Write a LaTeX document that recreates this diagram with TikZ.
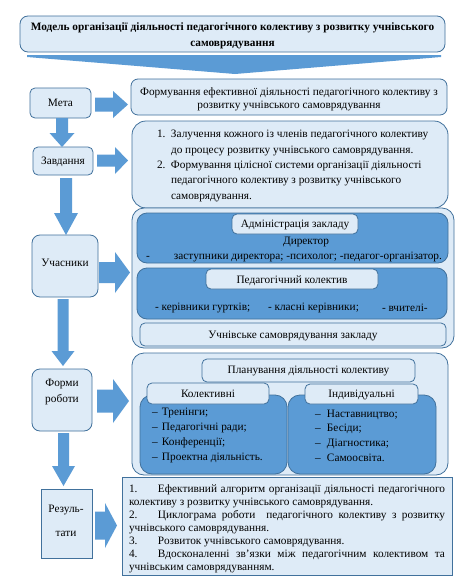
\documentclass[tikz,border=0pt]{standalone}
\usepackage{fontspec}
\setmainfont{Liberation Serif}
\usetikzlibrary{fit,calc}
\definecolor{lightfill}{HTML}{DEEBF7}
\definecolor{midfill}{HTML}{5B9BD5}
\definecolor{edgeblue}{HTML}{41719C}
\tikzset{
  box/.style={draw=edgeblue, fill=lightfill, line width=0.8pt, rounded corners=5pt, inner sep=0pt, outer sep=0pt},
  bigbox/.style={box, rounded corners=12pt},
  darkbox/.style={draw=edgeblue, fill=midfill, line width=0.8pt, rounded corners=10pt, inner sep=0pt, outer sep=0pt},
  sqbox/.style={box, sharp corners},
  txt/.style={inner sep=0pt, outer sep=0pt, font=\fontsize{11.3}{13}\selectfont},
  blockarrow/.style={fill=midfill, draw=none},
}
% right block arrow: from, to, gap-from, gap-to, dy (down +), half shaft, half head, head length
\newcommand\rarrow[8]{%
  \fill[blockarrow] let \p1=(#1.east), \p2=(#2.west), \p3=(#1.center) in
    ({\x1+#3pt},{\y3-(#5pt)+#6pt}) -- ({\x2-#4pt-#8pt},{\y3-(#5pt)+#6pt}) --
    ({\x2-#4pt-#8pt},{\y3-(#5pt)+#7pt}) -- ({\x2-#4pt},{\y3-(#5pt)}) --
    ({\x2-#4pt-#8pt},{\y3-(#5pt)-#7pt}) -- ({\x2-#4pt-#8pt},{\y3-(#5pt)-#6pt}) --
    ({\x1+#3pt},{\y3-(#5pt)-#6pt}) -- cycle;}
% down block arrow: from, to, gap-from, gap-to, dx, half shaft, half head, head length
\newcommand\darrow[8]{%
  \fill[blockarrow] let \p1=(#1.south), \p2=(#2.north), \p3=(#1.center) in
    ({\x3+(#5pt)-#6pt},{\y1-#3pt}) -- ({\x3+(#5pt)+#6pt},{\y1-#3pt}) --
    ({\x3+(#5pt)+#6pt},{\y2+#4pt+#8pt}) -- ({\x3+(#5pt)+#7pt},{\y2+#4pt+#8pt}) --
    ({\x3+(#5pt)},{\y2+#4pt}) -- ({\x3+(#5pt)-#7pt},{\y2+#4pt+#8pt}) --
    ({\x3+(#5pt)-#6pt},{\y2+#4pt+#8pt}) -- cycle;}
\begin{document}
\begin{tikzpicture}[x=1pt,y=-1pt]
\useasboundingbox (0,0) rectangle (469,581);
\fill[white] (0,0) rectangle (469,581);

% title
\node[box, rounded corners=8pt, fit={(20,16) (445,52)}] (title) {};
\node[txt, align=center, font=\fontsize{11.3}{16}\selectfont\bfseries] (titletxt) at (232.5,36)
  {Модель організації діяльності педагогічного колективу з розвитку учнівського\\ самоврядування};
\fill[blockarrow] (27,55) -- (441,55) -- (441,57) -- (235,74) -- (27,57) -- cycle;

% left column
\node[box, fit={(30,88) (91,118)}] (meta) {};
\node[txt] (metatxt) at (60.5,102.5) {Мета};
\node[box, fit={(33,147) (93,175)}] (zav) {};
\node[txt] (zavtxt) at (63,161.5) {Завдання};
\node[box, rounded corners=8pt, fit={(32,235) (98,297)}] (uch) {};
\node[txt] (uchtxt) at (65,263) {Учасники};
\node[box, rounded corners=8pt, fit={(32,369) (92,431)}] (forms) {};
\node[txt, align=center, font=\fontsize{11.3}{16}\selectfont] (formstxt) at (62,391.5) {Форми\\роботи};
\node[sqbox, fit={(41,489) (92,558)}] (res) {};
\node[txt, align=center, font=\fontsize{11.3}{24}\selectfont] (restxt) at (66,520.5) {Резуль-\\тати};

% goal
\node[box, rounded corners=7pt, fit={(131,79) (447,115)}] (goal) {};
\node[txt, align=center] (goaltxt) at (289,99)
  {Формування ефективної діяльності педагогічного колективу з\\ розвитку учнівського самоврядування};

% tasks
\node[bigbox, rounded corners=14pt, fit={(132,121) (448,208)}] (tasks) {};
\node[txt, anchor=west, align=left, font=\fontsize{11.3}{15.3}\selectfont] (taskstxt) at (157,166)
  {\makebox[14pt][l]{1.}Залучення кожного із членів педагогічного колективу\\
   \hspace*{14pt}до процесу розвитку учнівського самоврядування.\\
   \makebox[14pt][l]{2.}Формування цілісної системи організації діяльності\\
   \hspace*{14pt}педагогічного колективу з розвитку учнівського\\
   \hspace*{14pt}самоврядування.};

% participants
\node[bigbox, fit={(132,208) (454,348)}] (part) {};
\node[darkbox, fit={(137,213) (448,263)}] (admin) {};
\node[box, fit={(232,214) (358,234)}] (adminlbl) {};
\node[txt] (adminlbltxt) at (295,225) {Адміністрація закладу};
\node[txt] (dir) at (306,241.5) {Директор};
\node[txt, anchor=west] (zast) at (146,256.5) {\makebox[28pt][l]{-}заступники директора; -психолог; -педагог-організатор.};
\node[darkbox, fit={(137,268) (447,319)}] (ped) {};
\node[box, fit={(206,269) (378,289)}] (pedlbl) {};
\node[txt] (pedlbltxt) at (292,280.5) {Педагогічний колектив};
\node[txt, anchor=west] (ped1) at (155,307.5) {- керівники гуртків;};
\node[txt, anchor=west] (ped2) at (268,307.5) {- класні керівники;};
\node[txt, anchor=west] (ped3) at (382,307.5) {- вчителі-};
\node[box, fit={(140,323) (446,346)}] (stud) {};
\node[txt] (studtxt) at (293,336) {Учнівське самоврядування закладу};

% forms of work
\node[bigbox, fit={(132,353) (448,475)}] (formsbox) {};
\node[box, fit={(202,359) (415,382)}] (plan) {};
\node[txt] (plantxt) at (308.5,371) {Планування діяльності колективу};
\node[darkbox, rounded corners=12pt, fit={(140,395) (287,474)}] (left) {};
\node[darkbox, rounded corners=12pt, fit={(288,395) (436,474)}] (right) {};
\node[box, fit={(147,383) (269,404)}] (kollbl) {};
\node[txt] (kollbltxt) at (208,394) {Колективні};
\node[box, fit={(305,384) (418,404)}] (indlbl) {};
\node[txt] (indlbltxt) at (361.5,394.5) {Індивідуальні};
\node[txt, anchor=west, align=left, font=\fontsize{11.3}{14.7}\selectfont] (leftlist) at (152,435.5)
  {\makebox[10pt][l]{–}Тренінги;\\ \makebox[10pt][l]{–}Педагогічні ради;\\
   \makebox[10pt][l]{–}Конференції;\\ \makebox[10pt][l]{–}Проектна діяльність.};
\node[txt, anchor=west, align=left, font=\fontsize{11.3}{14.7}\selectfont] (rightlist) at (315,435.5)
  {\makebox[12pt][l]{–}Наставництво;\\ \makebox[12pt][l]{–}Бесіди;\\
   \makebox[12pt][l]{–}Діагностика;\\ \makebox[12pt][l]{–}Самоосвіта.};

% results
\node[sqbox, fit={(122,477) (452,575)}] (resbox) {};
\node[txt, anchor=west] (restext) at (129,528.5) {\parbox{316pt}{\fontsize{11.3}{13}\selectfont\parindent0pt\tolerance=10000
  \makebox[29pt][l]{1.}Ефективний алгоритм організації діяльності педагогічного\linebreak колективу з розвитку учнівського самоврядування.\par
  \makebox[29pt][l]{2.}Циклограма роботи\ \ педагогічного колективу з розвитку\linebreak учнівського самоврядування.\par
  \makebox[29pt][l]{3.}Розвиток учнівського самоврядування.\par
  \makebox[29pt][l]{4.}Вдосконаленні зв’язки між педагогічним колективом та\linebreak учнівським самоврядуванням.}};

% arrows
\rarrow{meta}{goal}{4}{3}{1.5}{7}{13.5}{15}
\rarrow{zav}{tasks}{4}{4}{-0.5}{6}{13.5}{13}
\rarrow{uch}{part}{1}{2}{6.5}{10.5}{20.5}{15}
\rarrow{forms}{formsbox}{5}{3}{1}{11.5}{22}{16}
\rarrow{res}{resbox}{3}{5}{2}{14}{22.5}{12}
\darrow{meta}{zav}{0}{0}{1.5}{6}{12.5}{14}
\darrow{zav}{uch}{3}{0}{3}{6}{12}{22}
\darrow{uch}{forms}{2}{3}{-2}{5.5}{11.5}{15}
\darrow{forms}{res}{2}{3}{1.5}{5.5}{11.5}{20}
\end{tikzpicture}
\end{document}
